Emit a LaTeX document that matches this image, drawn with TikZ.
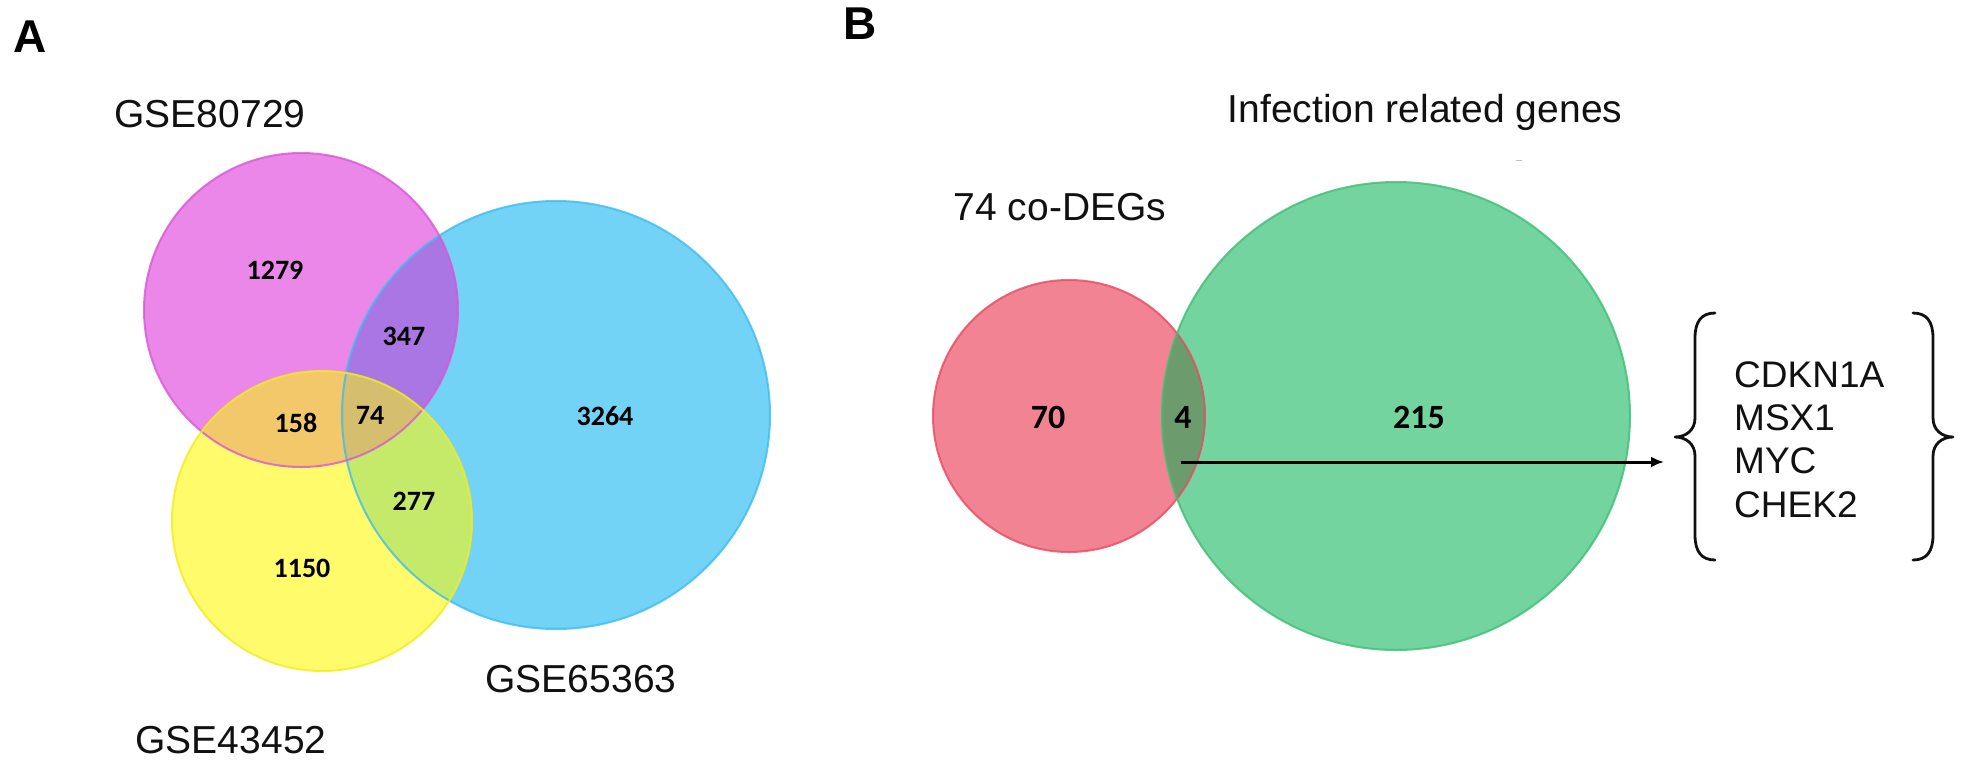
\documentclass[tikz,border=0pt]{standalone}
\usepackage{fontspec}
\setmainfont{Liberation Sans}
\newfontfamily\numfont{Carlito}
\usetikzlibrary{arrows.meta}
\definecolor{magF}{HTML}{EA87E8}
\definecolor{magE}{HTML}{D856D6}
\definecolor{bluF}{HTML}{73D3F6}
\definecolor{bluE}{HTML}{3DBCF0}
\definecolor{yelF}{HTML}{FFFB6B}
\definecolor{yelE}{HTML}{F0EC20}
\definecolor{purF}{HTML}{A976E4}
\definecolor{oraF}{HTML}{F2C86A}
\definecolor{ygrF}{HTML}{C5EA6A}
\definecolor{triF}{HTML}{D5BE6E}
\definecolor{redF}{HTML}{F18392}
\definecolor{redE}{HTML}{E84A5F}
\definecolor{grnF}{HTML}{74D4A0}
\definecolor{grnE}{HTML}{3DBE73}
\definecolor{ovlF}{HTML}{6C9C6E}
\definecolor{ink}{HTML}{111111}
\tikzset{
  setlabel/.style={inner sep=0pt, anchor=base, text=ink, font=\fontsize{39}{45}\selectfont},
  panel/.style={inner sep=0pt, anchor=base west, font=\fontsize{46}{52}\selectfont\bfseries},
  countA/.style={inner sep=0pt, anchor=base, font=\numfont\fontsize{28}{32}\selectfont\bfseries},
  countB/.style={inner sep=0pt, anchor=base, font=\numfont\fontsize{34}{38}\selectfont\bfseries},
  gene/.style={inner sep=0pt, anchor=base west, text=ink, font=\fontsize{37}{42}\selectfont},
  rim/.style={line width=2pt, draw opacity=0.8},
  bracepath/.style={line width=2.8pt, line cap=round, line join=round, draw=ink}
}
\begin{document}
\begin{tikzpicture}[x=1pt,y=-1pt]
\useasboundingbox (0,0) rectangle (1965,764);
\fill[white] (0,0) rectangle (1965,764);

% ---------- Panel A ----------
\fill[bluF] (556,415) circle (214pt);
\fill[magF] (301,310) circle (157pt);
\fill[yelF] (322,521) circle (150pt);
\begin{scope}
  \clip (301,310) circle (157pt);
  \fill[purF] (556,415) circle (214pt);
  \fill[oraF] (322,521) circle (150pt);
  \clip (556,415) circle (214pt);
  \fill[triF] (322,521) circle (150pt);
\end{scope}
\begin{scope}
  \clip (556,415) circle (214pt);
  \clip (322,521) circle (150pt);
  \fill[ygrF] (556,415) circle (214pt);
  \clip (301,310) circle (157pt);
  \fill[triF] (556,415) circle (214pt);
\end{scope}
\draw[rim, bluE] (556,415) circle (214pt);
\draw[rim, magE] (301,310) circle (157pt);
\draw[rim, yelE] (322,521) circle (150pt);

\node[panel] (labA) at (13,52) {A};
\node[setlabel] (gse1) at (210,127) {GSE80729};
\node[setlabel] (gse2) at (231,753) {GSE43452};
\node[setlabel] (gse3) at (581,692) {GSE65363};

\node[countA] (n1279) at (275,279) {1279};
\node[countA] (n347) at (404,345) {347};
\node[countA] (n74) at (370,424) {74};
\node[countA] (n3264) at (605,425) {3264};
\node[countA] (n158) at (296,432) {158};
\node[countA] (n277) at (414,510) {277};
\node[countA] (n1150) at (302,577) {1150};

% ---------- Panel B ----------
\fill[redF] (1069,416) circle (136pt);
\fill[grnF] (1396,416) circle (234pt);
\begin{scope}
  \clip (1069,416) circle (136pt);
  \fill[ovlF] (1396,416) circle (234pt);
\end{scope}
\draw[rim, redE] (1069,416) circle (136pt);
\draw[rim, grnE] (1396,416) circle (234pt);

\node[panel] (labB) at (843,39) {B};
\node[setlabel] (codeg) at (1060,220) {74 co-DEGs};
\node[setlabel] (infect) at (1425,122) {Infection related genes};
\draw[gray!50, line width=1pt] (1516,160) -- (1522,160);

\node[countB] (n70) at (1048,428) {70};
\node[countB] (n4) at (1183,428) {4};
\node[countB] (n215) at (1419,428) {215};

\coordinate (arrS) at (1181,462);
\coordinate (arrE) at (1664,462);
\draw[line width=3pt, -{Latex[length=13pt,width=11pt]}] (arrS) -- (arrE);

% braces
\draw[bracepath] (1715,313) .. controls (1701,313) and (1695,322) .. (1695,338)
  -- (1695,418) .. controls (1695,430) and (1686,437) .. (1675,437)
  .. controls (1686,437) and (1695,444) .. (1695,456)
  -- (1695,535) .. controls (1695,551) and (1701,560) .. (1715,560);
\draw[bracepath] (1913,313) .. controls (1927,313) and (1933,322) .. (1933,338)
  -- (1933,418) .. controls (1933,430) and (1942,437) .. (1953,437)
  .. controls (1942,437) and (1933,444) .. (1933,456)
  -- (1933,535) .. controls (1933,551) and (1927,560) .. (1913,560);

\node[gene] (g1) at (1734,387) {CDKN1A};
\node[gene] (g2) at (1734,430) {MSX1};
\node[gene] (g3) at (1734,473) {MYC};
\node[gene] (g4) at (1734,517) {CHEK2};
\end{tikzpicture}
\end{document}
